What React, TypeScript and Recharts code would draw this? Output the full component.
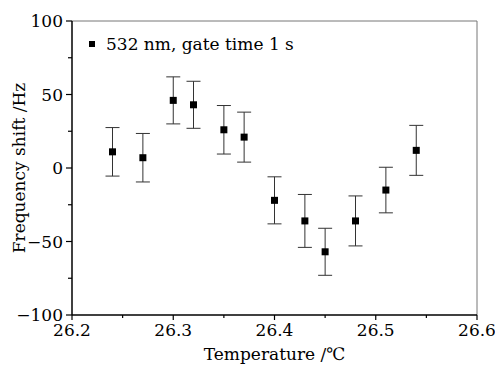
import React from 'react';
import { ScatterChart, Scatter, XAxis, YAxis, ErrorBar, ReferenceLine, Legend, Label } from 'recharts';

const temps = [26.24, 26.27, 26.3, 26.32, 26.35, 26.37, 26.4, 26.43, 26.45, 26.48, 26.51, 26.54];
const shifts = [11, 7, 46, 43, 26, 21, -22, -36, -57, -36, -15, 12];
const errors = [16.5, 16.5, 16, 16, 16.5, 17, 16, 18, 16, 17, 15.5, 17];

const xTicks = [26.2, 26.25, 26.3, 26.35, 26.4, 26.45, 26.5, 26.55, 26.6];
const yTicks = [-100, -75, -50, -25, 0, 25, 50, 75, 100];

const seriesName = '532 nm, gate time 1 s';
const xTitle = 'Temperature /℃';
const yTitle = 'Frequency shift /Hz';

const data = temps.map((t, i) => ({ x: t, y: shifts[i], err: errors[i] }));

const FONT = 'DejaVu Serif, Liberation Serif, serif';
const FS = 17;

const XTick = (props: any) => {
  const { x, y, payload } = props;
  const v = payload.value;
  const major = Math.round(v * 100) % 10 === 0;
  return (
    <g>
      <line x1={x} x2={x} y1={y} y2={y + (major ? 5 : 3)} stroke="#000" strokeWidth={1.2} />
      {major && (
        <text x={x} y={y + 21} textAnchor="middle" style={{ fontFamily: FONT, fontSize: FS }} fill="#000">
          {v.toFixed(1)}
        </text>
      )}
    </g>
  );
};

const YTick = (props: any) => {
  const { x, y, payload } = props;
  const v = payload.value;
  const major = v % 50 === 0;
  const label = v < 0 ? '\u2212' + Math.abs(v) : String(v);
  return (
    <g>
      <line x1={x - (major ? 6 : 4)} x2={x} y1={y} y2={y} stroke="#000" strokeWidth={1.2} />
      {major && (
        <text x={x - 9} y={y} dy={6} textAnchor="end" style={{ fontFamily: FONT, fontSize: FS }} fill="#000">
          {label}
        </text>
      )}
    </g>
  );
};

const Square = (props: any) => {
  const { cx, cy } = props;
  return <rect x={cx - 3.5} y={cy - 3.5} width={7} height={7} fill="#000" />;
};

const LegendContent = () => (
  <div style={{ display: 'flex', alignItems: 'center', fontFamily: FONT, fontSize: FS, color: '#000', whiteSpace: 'nowrap' }}>
    <span style={{ display: 'inline-block', width: 6, height: 6, background: '#000', marginRight: 11 }} />
    <span>{seriesName}</span>
  </div>
);

export default function App() {
  return (
    <div style={{ position: 'absolute', left: 0, top: 0, width: 495, height: 365, background: '#fff', fontFamily: FONT }}>
      <ScatterChart width={495} height={365} margin={{ top: 21, right: 18, bottom: 0, left: 0 }}>
        <XAxis
          type="number"
          dataKey="x"
          domain={[26.2, 26.6]}
          ticks={xTicks}
          interval={0}
          height={50}
          tickSize={0}
          tickMargin={0}
          tick={<XTick />}
          axisLine={{ stroke: '#000', strokeWidth: 1.5 }}
          allowDataOverflow
        >
          <Label value={xTitle} position="insideBottom" offset={5} style={{ fontFamily: FONT, fontSize: FS, fill: '#000' }} />
        </XAxis>
        <YAxis
          type="number"
          dataKey="y"
          domain={[-100, 100]}
          ticks={yTicks}
          interval={0}
          width={72}
          tickSize={0}
          tickMargin={0}
          tick={<YTick />}
          axisLine={{ stroke: '#000', strokeWidth: 1.5 }}
          allowDataOverflow
        >
          <Label value={yTitle} angle={-90} position="insideLeft" offset={19} style={{ fontFamily: FONT, fontSize: FS, fill: '#000', textAnchor: 'middle' }} />
        </YAxis>
        <ReferenceLine y={100} stroke="#777" strokeWidth={1} />
        <ReferenceLine x={26.6} stroke="#777" strokeWidth={1} />
        <Legend
          layout="vertical"
          align="center"
          verticalAlign="middle"
          content={<LegendContent />}
          wrapperStyle={{ position: 'absolute', left: 89, top: 34, width: 'auto' }}
        />
        <Scatter name={seriesName} data={data} shape={<Square />} isAnimationActive={false}>
          <ErrorBar dataKey="err" direction="y" width={7} stroke="#333" strokeWidth={1} isAnimationActive={false} />
        </Scatter>
      </ScatterChart>
    </div>
  );
}
